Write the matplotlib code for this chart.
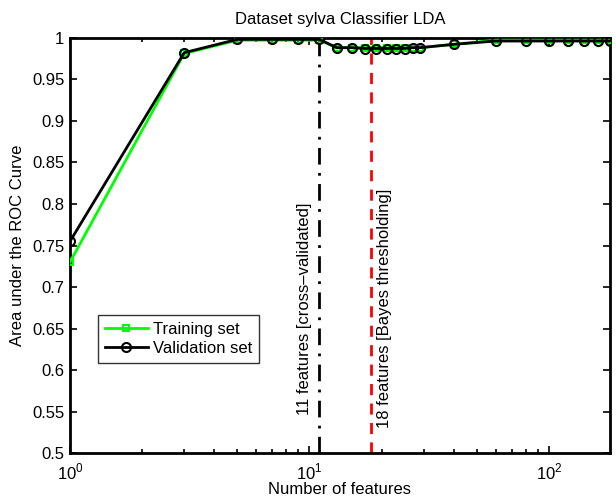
import matplotlib
matplotlib.use("Agg")
import matplotlib.pyplot as plt
from matplotlib.ticker import FixedLocator, LogLocator, NullFormatter

plt.rcParams['font.family'] = ['Liberation Sans', 'DejaVu Sans']
plt.rcParams['mathtext.fontset'] = 'custom'
plt.rcParams['mathtext.rm'] = 'Liberation Sans'

# Data
n_features = [1, 3, 5, 7, 9, 11, 13, 15, 17, 19, 21, 23, 25, 27, 29, 40, 60, 80, 100, 120, 140, 160, 180]
train_auc = [0.730, 0.981, 0.997, 0.997, 0.997, 0.997, 0.988, 0.988, 0.988, 0.988, 0.988, 0.988, 0.988, 0.988, 0.988,
             0.992, 0.997, 0.997, 0.997, 0.997, 0.997, 0.997, 0.997]
valid_auc = [0.755, 0.982, 0.998, 0.998, 0.998, 0.998, 0.988, 0.988, 0.987, 0.987, 0.987, 0.987, 0.987, 0.988, 0.988,
             0.992, 0.996, 0.996, 0.996, 0.996, 0.996, 0.996, 0.996]
cv_features = 11
bayes_features = 18
yticks = [0.5, 0.55, 0.6, 0.65, 0.7, 0.75, 0.8, 0.85, 0.9, 0.95, 1.0]
ytick_labels = ['0.5', '0.55', '0.6', '0.65', '0.7', '0.75', '0.8', '0.85', '0.9', '0.95', '1']

FS = 12

fig = plt.figure(figsize=(6.16, 5.00), dpi=100)
ax = fig.add_axes([70/616, 1-453.3/500, (610-70)/616, (453.3-37.7)/500])

ax.plot(n_features, train_auc, color='#00ff00', lw=2, marker='s', ms=5,
        mfc='none', mec='#00ff00', mew=1.5, label='Training set', zorder=3)
ax.plot(n_features, valid_auc, color='black', lw=2, marker='o', ms=6.5,
        mfc='none', mec='black', mew=1.5, label='Validation set', zorder=4)

ax.axvline(cv_features, color='black', lw=2, ls=(0, (6, 3, 1, 3)), zorder=2)
ax.axvline(bayes_features, color='red', lw=2, ls=(0, (4, 3)), zorder=2)

ax.text(9.55, 0.546, '11 features [cross\u2013validated]', rotation=90,
        ha='center', va='bottom', fontsize=FS)
ax.text(20.5, 0.530, '18 features [Bayes thresholding]', rotation=90,
        ha='center', va='bottom', fontsize=FS)

ax.set_xscale('log')
ax.set_xlim(1, 180)
ax.set_ylim(0.5, 1.0)
ax.set_yticks(yticks)
ax.set_yticklabels(ytick_labels)
ax.xaxis.set_major_locator(FixedLocator([1, 10, 100]))
ax.set_xticklabels(['$10^{0}$', '$10^{1}$', '$10^{2}$'])
ax.xaxis.set_minor_locator(LogLocator(base=10, subs=range(2, 10)))
ax.xaxis.set_minor_formatter(NullFormatter())

ax.tick_params(which='both', direction='in', top=True, right=True, labelsize=FS, width=1.2)
ax.tick_params(which='major', length=5)
ax.tick_params(axis='x', which='major', pad=6)
ax.tick_params(axis='y', which='major', pad=4)
ax.tick_params(which='minor', length=3)
for s in ax.spines.values():
    s.set_linewidth(2)

ax.set_title('Dataset sylva Classifier LDA', fontsize=FS, pad=10)
ax.set_xlabel('Number of features', fontsize=FS, labelpad=0)
ax.set_ylabel('Area under the ROC Curve', fontsize=FS, labelpad=5)

leg = ax.legend(loc='lower left', bbox_to_anchor=((98-70)/540, (453.3-362.7)/415.6),
                fontsize=FS, frameon=True, fancybox=False, edgecolor='black',
                borderpad=0.4, handlelength=2.6, handletextpad=0.3, labelspacing=0.25,
                borderaxespad=0)
leg.get_frame().set_linewidth(1)

fig.savefig('out.png', dpi=100)
